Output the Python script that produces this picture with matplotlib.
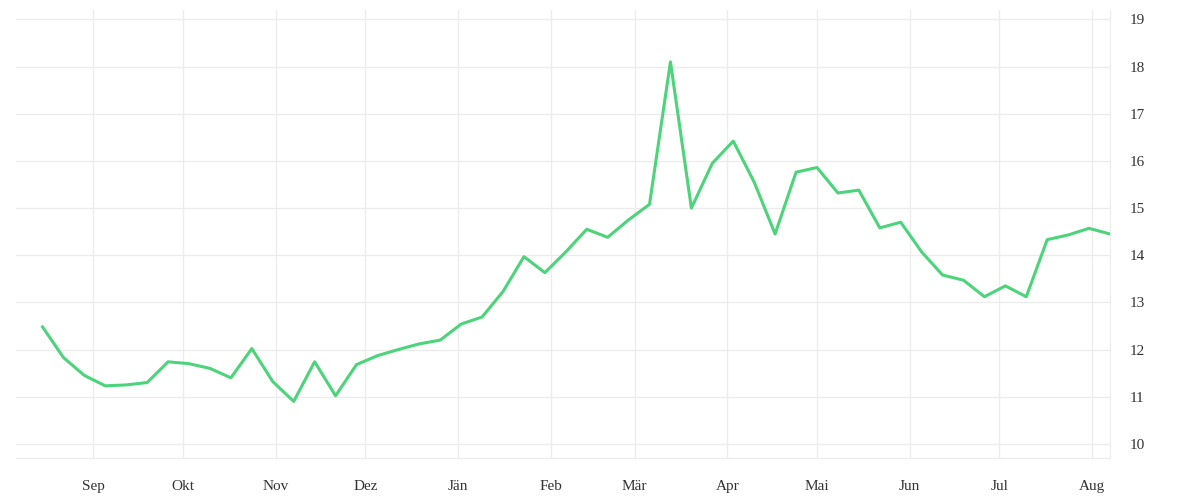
import matplotlib
matplotlib.use("Agg")
import matplotlib.pyplot as plt
import datetime as dt

start = dt.date(2021, 8, 15)
values = [12.48, 11.83, 11.45, 11.23, 11.25, 11.3, 11.74, 11.7, 11.6, 11.4, 12.02, 11.32, 10.9,
          11.74, 11.02, 11.68, 11.87, 12.0, 12.12, 12.2, 12.54, 12.69, 13.23, 13.97, 13.63, 14.07,
          14.55, 14.38, 14.75, 15.08, 18.1, 15.0, 15.95, 16.42, 15.55, 14.45, 15.76, 15.86, 15.32,
          15.38, 14.58, 14.7, 14.07, 13.58, 13.47, 13.12, 13.35, 13.12, 14.33, 14.43, 14.57, 14.45]
dates = [start + dt.timedelta(days=7 * i) for i in range(len(values))]
month_labels = ["Sep", "Okt", "Nov", "Dez", "Jän", "Feb", "Mär", "Apr", "Mai", "Jun", "Jul", "Aug"]
month_ticks = [dt.date(2021, 9, 1), dt.date(2021, 10, 1), dt.date(2021, 11, 1), dt.date(2021, 12, 1),
               dt.date(2022, 1, 1), dt.date(2022, 2, 1), dt.date(2022, 3, 1), dt.date(2022, 4, 1),
               dt.date(2022, 5, 1), dt.date(2022, 6, 1), dt.date(2022, 7, 1), dt.date(2022, 8, 1)]
y_ticks = list(range(10, 20))

plt.rcParams['font.family'] = ['Liberation Serif', 'DejaVu Serif']
fig = plt.figure(figsize=(12, 5), dpi=100)
ax = fig.add_axes([0.013, 0.084, 0.912, 0.896])
ax.plot(dates, values, color="#4cd47a", lw=2.2, zorder=3)
ax.set_xlim(dt.date(2021, 8, 6), dt.date(2022, 8, 7))
ax.set_ylim(9.7, 19.2)
ax.set_xticks(month_ticks)
ax.set_xticklabels(month_labels)
ax.set_yticks(y_ticks)
ax.yaxis.tick_right()
ax.grid(True, color="#ececec", lw=0.9)
for s in ["top", "left"]:
    ax.spines[s].set_visible(False)
for s in ["right", "bottom"]:
    ax.spines[s].set_color("#ececec")
ax.tick_params(length=0, labelsize=11, colors="#333333", pad=14)
ax.tick_params(axis="x", pad=16)
fig.savefig("out.png")
